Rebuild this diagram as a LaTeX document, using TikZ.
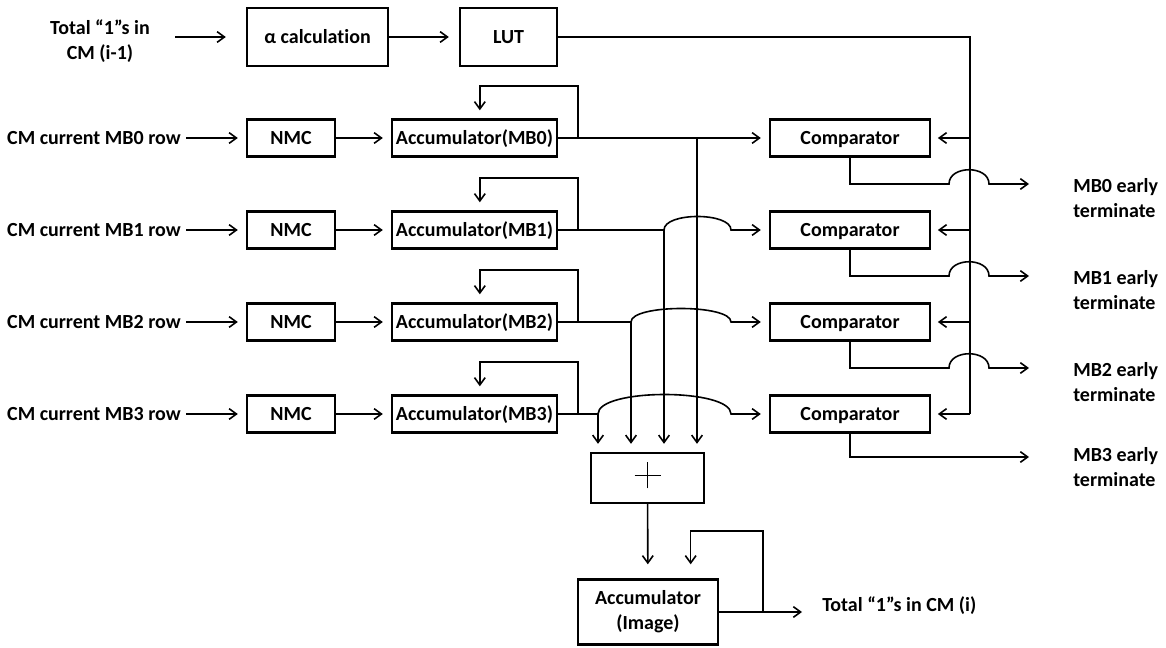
\documentclass[tikz,border=0pt]{standalone}
\usepackage{fontspec}
\setmainfont{Carlito}[Ligatures=NoCommon]
\usetikzlibrary{arrows.meta}

\tikzset{
	txt/.style={font=\fontsize{15}{19}\selectfont\bfseries,align=center,inner sep=0pt},
	blk/.style={txt,draw,line width=1.8pt},
	one/.style={text height=9.7pt,text depth=0pt},
	nmcbox/.style={blk,one,minimum width=66pt,minimum height=27.75pt},
	accbox/.style={blk,one,minimum width=123.75pt,minimum height=27.75pt},
	cmpbox/.style={blk,one,minimum width=120pt,minimum height=27.75pt},
	wire/.style={line width=1.2pt},
	feed/.style={wire,-{Straight Barb[length=5.5pt,width=8pt]}},
	into/.style={feed,shorten >=6pt}
}

\begin{document}
\begin{tikzpicture}[x=0.75pt,y=-0.75pt]
	\useasboundingbox (0,0) rectangle (1166,648);
	
	%TOP ROW
	\node[txt] (prev) at (100,41) {Total “1”s in\\CM (i-1)};
	\node[blk,one,minimum width=105.75pt,minimum height=43.5pt] (alpha) at (317.5,37) {α calculation};
	\node[blk,one,minimum width=72.75pt,minimum height=43.5pt] (lut) at (508.5,37) {LUT};
	
	%ROWS
	\node[txt] (row0) at (94,138) {CM current MB0 row};
	\node[nmcbox] (nmc0) at (291,138) {NMC};
	\node[accbox] (acc0) at (474.5,138) {Accumulator(MB0)};
	\node[cmpbox] (cmp0) at (850,138) {Comparator};
	%
	\node[txt] (row1) at (94,230) {CM current MB1 row};
	\node[nmcbox] (nmc1) at (291,230) {NMC};
	\node[accbox] (acc1) at (474.5,230) {Accumulator(MB1)};
	\node[cmpbox] (cmp1) at (850,230) {Comparator};
	%
	\node[txt] (row2) at (94,322) {CM current MB2 row};
	\node[nmcbox] (nmc2) at (291,322) {NMC};
	\node[accbox] (acc2) at (474.5,322) {Accumulator(MB2)};
	\node[cmpbox] (cmp2) at (850,322) {Comparator};
	%
	\node[txt] (row3) at (94,414) {CM current MB3 row};
	\node[nmcbox] (nmc3) at (291,414) {NMC};
	\node[accbox] (acc3) at (474.5,414) {Accumulator(MB3)};
	\node[cmpbox] (cmp3) at (850,414) {Comparator};
	
	%OUTPUT LABELS
	\node[txt,align=left,anchor=west] (mb0) at (1073,198) {MB0 early\\terminate};
	\node[txt,align=left,anchor=west] (mb1) at (1073,290) {MB1 early\\terminate};
	\node[txt,align=left,anchor=west] (mb2) at (1073,382) {MB2 early\\terminate};
	\node[txt,align=left,anchor=west] (mb3) at (1073,467) {MB3 early\\terminate};
	
	%SUM AND IMAGE ACCUMULATOR
	\node[blk,minimum width=84.75pt,minimum height=37.5pt] (plus) at (647.5,478) {};
	\draw[line width=1.1pt] ([xshift=-9.75pt,yshift=2pt]plus.center) -- ([xshift=9.75pt,yshift=2pt]plus.center);
	\draw[line width=1.1pt] ([yshift=-7.75pt]plus.center) -- ([yshift=11.75pt]plus.center);
	\node[blk,minimum width=105pt,minimum height=48.75pt] (accimg) at (648,612) {Accumulator\\(Image)};
	\node[txt,anchor=west] (total) at (822,606) {Total “1”s in CM (i)};
	
	%POINTS
	\coordinate (tap0) at (697,138);
	\coordinate (tap1) at (664,230);
	\coordinate (tap2) at (631,322);
	\coordinate (tap3) at (598,414);
	\coordinate (hop1) at (731,230);
	\coordinate (hop2) at (731,322);
	\coordinate (hop3) at (731,414);
	\coordinate (bus0) at (970,138);
	\coordinate (bus1) at (970,230);
	\coordinate (bus2) at (970,322);
	\coordinate (bus3) at (970,414);
	\coordinate (end0) at (1029,184);
	\coordinate (end1) at (1029,276);
	\coordinate (end2) at (1029,368);
	\coordinate (end3) at (1029,457);
	\coordinate (fbimg) at (763,612);
	
	%TOP ARROWS
	\draw[feed,shorten <=19pt,shorten >=15pt] (prev.east |- alpha.west) -- (alpha.west);
	\draw[feed,shorten >=7.5pt] (alpha) -- (lut);
	\draw[wire] (lut) -| (bus3);
	
	%ROW ARROWS
	\draw[into,shorten <=4pt] (row0) -- (nmc0);
	\draw[into,shorten <=4pt] (row1) -- (nmc1);
	\draw[into,shorten <=4pt] (row2) -- (nmc2);
	\draw[into,shorten <=4pt] (row3) -- (nmc3);
	%
	\draw[into] (nmc0) -- (acc0);
	\draw[into] (nmc1) -- (acc1);
	\draw[into] (nmc2) -- (acc2);
	\draw[into] (nmc3) -- (acc3);
	
	%ACCUMULATOR FEEDBACK
	\draw[into] (578,138) -- ++(0,-52) -| ([xshift=4pt]acc0.north);
	\draw[into] (578,230) -- ++(0,-52) -| ([xshift=4pt]acc1.north);
	\draw[into] (578,322) -- ++(0,-52) -| ([xshift=4pt]acc2.north);
	\draw[into] (578,414) -- ++(0,-52) -| ([xshift=4pt]acc3.north);
	
	%TO COMPARATORS
	\draw[into] (acc0) -- (cmp0);
	\draw[into] (acc1) -- (tap1) .. controls +(0,-18) and +(0,-18) .. (hop1) -- (cmp1);
	\draw[into] (acc2) -- (tap2) .. controls +(0,-18) and +(0,-18) .. (hop2) -- (cmp2);
	\draw[into] (acc3) -- (tap3) .. controls +(0,-26) and +(0,-26) .. (hop3) -- (cmp3);
	
	%DOWN TO SUM
	\draw[into] (tap0) -- (tap0 |- plus.north);
	\draw[into] (tap1) -- (tap1 |- plus.north);
	\draw[into] (tap2) -- (tap2 |- plus.north);
	\draw[into] (tap3) -- (tap3 |- plus.north);
	
	%THRESHOLD FROM LUT
	\draw[into,shorten >=5pt] (bus0) -- (cmp0);
	\draw[into,shorten >=5pt] (bus1) -- (cmp1);
	\draw[into,shorten >=5pt] (bus2) -- (cmp2);
	\draw[into,shorten >=5pt] (bus3) -- (cmp3);
	
	%EARLY TERMINATE
	\draw[feed] (cmp0) |- (949,184) .. controls +(0,-19) and +(0,-19) .. (989,184) -- (end0);
	\draw[feed] (cmp1) |- (949,276) .. controls +(0,-19) and +(0,-19) .. (989,276) -- (end1);
	\draw[feed] (cmp2) |- (949,368) .. controls +(0,-19) and +(0,-19) .. (989,368) -- (end2);
	\draw[feed] (cmp3) |- (end3);
	
	%IMAGE ACCUMULATOR
	\draw[feed,shorten >=10.5pt] (plus) -- (accimg);
	\draw[feed,shorten >=15pt] (accimg) -- (accimg.east -| total.west);
	\draw[feed,shorten >=10.5pt] (fbimg) -- ++(0,-81) -| ([xshift=32pt]accimg.north);
\end{tikzpicture}
\end{document}
